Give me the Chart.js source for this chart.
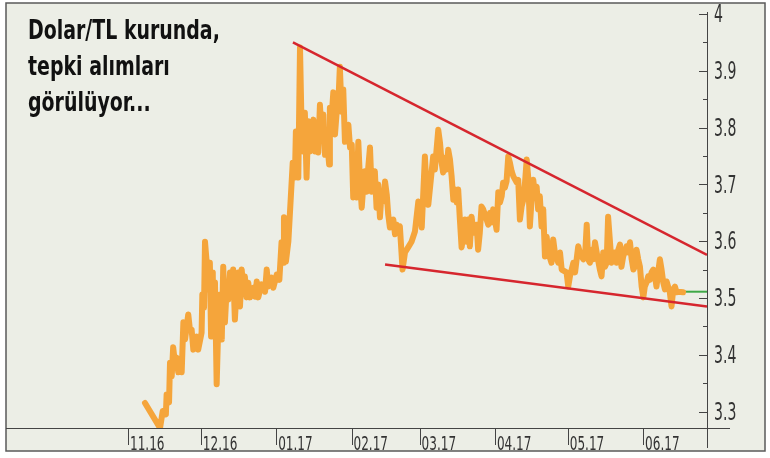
<!DOCTYPE html>
<html>
<head>
<meta charset="utf-8">
<script src="https://cdn.jsdelivr.net/npm/chart.js@4"></script>
<style>
  html, body { margin: 0; padding: 0; background: #fff; }
  #wrap { position: relative; width: 770px; height: 458px; }
  #title {
    position: absolute; left: 28px; top: 12px;
    font-family: 'Liberation Sans Narrow', 'DejaVu Sans Condensed', sans-serif;
    font-weight: bold; font-size: 27px; line-height: 36px; color: #111;
    transform: scaleX(0.78); transform-origin: 0 0; white-space: nowrap;
  }
</style>
</head>
<body>
<div id="wrap">
  <canvas id="chart" width="770" height="458"></canvas>
  <div id="title">Dolar/TL kurunda,<br>tepki alımları<br>görülüyor...</div>
</div>
<script>
// Dolar/TL kuru (gün: 1 Kasım 2016'dan itibaren)
const days = [
  7.0, 13.2, 14.3, 15.6, 15.9, 16.9, 17.3, 18.0, 18.6, 19.3, 20.0, 20.7, 21.4, 22.1, 22.8, 23.5,
  24.8, 25.5, 26.2, 26.9, 28.3, 28.9, 30.3, 30.6, 31.3, 31.7, 32.4, 33.0, 33.7, 34.2, 34.9, 35.1,
  35.8, 36.5, 37.2, 37.9, 38.6, 39.2, 39.9, 40.6, 41.3, 42.0, 42.7, 43.3, 44.0, 44.7, 45.4, 46.1,
  46.8, 47.4, 48.1, 48.8, 49.5, 50.2, 51.6, 52.3, 53.0, 53.6, 55.0, 56.4, 57.1, 57.7, 59.1, 59.8,
  61.2, 62.3, 63.2, 63.9, 64.2, 65.0, 66.0, 67.8, 68.7, 69.1, 70.1, 70.8, 71.5, 72.1, 72.8, 73.5,
  74.2, 74.9, 75.6, 76.3, 77.0, 77.6, 78.3, 79.0, 79.7, 80.4, 81.1, 81.8, 82.8, 83.1, 83.8, 84.5,
  85.2, 85.9, 86.5, 87.2, 87.9, 88.6, 89.3, 90.0, 90.7, 91.4, 92.1, 92.7, 93.4, 94.1, 94.8, 95.5,
  96.2, 96.9, 97.5, 98.2, 98.9, 99.6, 100.3, 100.9, 101.6, 102.3, 103.0, 103.7, 104.4, 105.1, 105.8, 106.5,
  107.1, 107.8, 109.2, 109.9, 110.6, 111.2, 111.9, 113.0, 114.0, 115.3, 116.7, 118.1, 119.5, 120.2, 120.9, 122.2,
  122.9, 123.6, 125.6, 126.3, 127.7, 128.4, 129.1, 129.7, 130.4, 131.1, 131.8, 132.5, 133.2, 133.9, 134.6, 135.3,
  135.9, 136.6, 137.3, 138.0, 138.7, 139.4, 140.0, 140.7, 141.4, 142.1, 142.8, 143.5, 144.1, 144.8, 145.5, 146.2,
  147.6, 148.3, 149.0, 149.7, 150.3, 151.7, 152.4, 153.1, 153.8, 154.4, 155.1, 155.8, 156.5, 157.2, 157.9, 158.6,
  160.0, 160.6, 161.3, 162.0, 162.7, 163.4, 164.1, 164.7, 165.4, 166.1, 166.8, 167.5, 168.2, 168.8, 169.5, 170.2,
  170.9, 171.6, 172.3, 173.0, 174.3, 175.0, 175.7, 177.1, 177.8, 178.5, 180.5, 181.2, 181.9, 183.3, 184.0, 185.3,
  186.0, 186.7, 187.4, 188.1, 188.8, 189.4, 190.1, 190.8, 191.5, 192.2, 192.9, 194.2, 194.9, 195.6, 196.3, 197.0,
  197.6, 198.3, 199.0, 199.7, 200.4, 201.1, 201.8, 202.5, 203.1, 203.8, 205.2, 205.9, 206.6, 207.3, 208.0, 208.6,
  209.3, 210.0, 210.7, 211.4, 212.1, 212.7, 213.4, 214.1, 214.8, 215.5, 216.2, 216.9, 217.5, 218.2, 218.9, 219.6,
  220.3, 221.0, 221.7, 222.3, 223.0, 223.7, 224.4, 225.1, 225.8, 226.5, 228.5
];
const rates = [
  3.315, 3.271, 3.301, 3.295, 3.330, 3.316, 3.386, 3.362, 3.413, 3.386, 3.395, 3.369, 3.388, 3.369, 3.457, 3.427,
  3.471, 3.444, 3.444, 3.409, 3.432, 3.409, 3.439, 3.506, 3.483, 3.599, 3.562, 3.515, 3.562, 3.432, 3.545, 3.457,
  3.527, 3.348, 3.457, 3.506, 3.427, 3.555, 3.457, 3.515, 3.497, 3.545, 3.502, 3.550, 3.462, 3.515, 3.545, 3.485,
  3.550, 3.520, 3.538, 3.501, 3.527, 3.501, 3.518, 3.502, 3.529, 3.501, 3.524, 3.511, 3.550, 3.520, 3.536, 3.518,
  3.541, 3.532, 3.598, 3.562, 3.642, 3.564, 3.599, 3.738, 3.712, 3.793, 3.712, 3.941, 3.788, 3.758, 3.826, 3.712,
  3.811, 3.758, 3.788, 3.814, 3.758, 3.788, 3.756, 3.840, 3.788, 3.823, 3.752, 3.782, 3.735, 3.835, 3.818, 3.862,
  3.788, 3.828, 3.835, 3.907, 3.828, 3.867, 3.775, 3.788, 3.805, 3.765, 3.770, 3.677, 3.705, 3.677, 3.775, 3.705,
  3.659, 3.700, 3.723, 3.687, 3.730, 3.765, 3.687, 3.705, 3.723, 3.659, 3.700, 3.642, 3.687, 3.670, 3.705, 3.682,
  3.647, 3.624, 3.638, 3.612, 3.629, 3.624, 3.626, 3.550, 3.580, 3.589, 3.599, 3.617, 3.670, 3.659, 3.624, 3.749,
  3.691, 3.664, 3.749, 3.726, 3.796, 3.774, 3.738, 3.721, 3.747, 3.726, 3.761, 3.744, 3.714, 3.673, 3.691, 3.668,
  3.691, 3.638, 3.589, 3.608, 3.638, 3.599, 3.638, 3.591, 3.643, 3.620, 3.615, 3.629, 3.585, 3.615, 3.661, 3.656,
  3.638, 3.629, 3.650, 3.633, 3.656, 3.620, 3.686, 3.668, 3.679, 3.703, 3.694, 3.705, 3.749, 3.738, 3.723, 3.714,
  3.703, 3.708, 3.638, 3.661, 3.673, 3.703, 3.744, 3.714, 3.626, 3.673, 3.708, 3.679, 3.696, 3.656, 3.679, 3.626,
  3.656, 3.573, 3.608, 3.580, 3.562, 3.603, 3.580, 3.562, 3.580, 3.550, 3.545, 3.520, 3.538, 3.562, 3.545, 3.591,
  3.580, 3.573, 3.568, 3.573, 3.629, 3.568, 3.562, 3.585, 3.568, 3.598, 3.580, 3.550, 3.538, 3.580, 3.555, 3.562,
  3.643, 3.603, 3.562, 3.568, 3.580, 3.562, 3.585, 3.594, 3.555, 3.573, 3.591, 3.580, 3.598, 3.568, 3.550, 3.555,
  3.585, 3.568, 3.555, 3.520, 3.501, 3.520, 3.527, 3.538, 3.532, 3.545, 3.550, 3.538, 3.520, 3.545, 3.568, 3.550,
  3.527, 3.515, 3.529, 3.520, 3.510, 3.485, 3.515, 3.520, 3.510, 3.511, 3.510
];

// Trend çizgileri
const upperTrendDays = [67.9, 238.3];
const upperTrendRates = [3.950, 3.576];
const lowerTrendDays = [105.8, 238.3];
const lowerTrendRates = [3.559, 3.485];
const lastLevelDays = [228.5, 238.3];
const lastLevelRates = [3.511, 3.511];

// Eksen
const monthDays = [0, 30, 61, 92, 120, 151, 181, 212];
const monthLabels = ['11.16', '12.16', '01.17', '02.17', '03.17', '04.17', '05.17', '06.17'];
const yTicks = [3.3, 3.35, 3.4, 3.45, 3.5, 3.55, 3.6, 3.65, 3.7, 3.75, 3.8, 3.85, 3.9, 3.95, 4.0];
const yLabels = ['3.3', '3.4', '3.5', '3.6', '3.7', '3.8', '3.9', '4'];

const FONT = "'Liberation Sans Narrow', 'DejaVu Sans Condensed', sans-serif";

function toPoints(xs, ys) {
    return xs.map((x, i) => ({ x: x, y: ys[i] }));
}

// narrow text: the original uses a very condensed face
function narrowText(c, text, x, y, sx) {
    c.save();
    c.translate(x, y);
    c.scale(sx, 1);
    c.fillText(text, 0, 0);
    c.restore();
}

// Background, frame, axis lines and labels
const frame = {
    id: 'frame',
    beforeDraw(chart) {
        const c = chart.ctx;
        c.save();
        c.fillStyle = '#ffffff';
        c.fillRect(0, 0, chart.width, chart.height);
        c.fillStyle = '#eceee6';
        c.fillRect(6, 3, 759, 448);
        c.strokeStyle = '#5a5a5a';
        c.lineWidth = 1.5;
        c.strokeRect(6, 3, 759, 448);
        c.restore();
    },
    afterDraw(chart) {
        const c = chart.ctx;
        const a = chart.chartArea;
        const xs = chart.scales.x, ys = chart.scales.y;
        c.save();
        c.strokeStyle = '#444';
        c.lineWidth = 1;
        c.beginPath();
        c.moveTo(6, a.bottom + 0.5);
        c.lineTo(730, a.bottom + 0.5);
        c.moveTo(a.right + 0.5, ys.getPixelForValue(4.0) - 2);
        c.lineTo(a.right + 0.5, 448);
        yTicks.forEach((v, i) => {
            const py = Math.round(ys.getPixelForValue(v)) + 0.5;
            const len = i % 2 === 0 ? 8 : 4;
            c.moveTo(a.right - len, py);
            c.lineTo(a.right, py);
        });
        monthDays.forEach(d => {
            const px = Math.round(xs.getPixelForValue(d)) + 0.5;
            c.moveTo(px, a.bottom);
            c.lineTo(px, a.bottom + 17);
        });
        c.stroke();

        c.fillStyle = '#333';
        c.textAlign = 'left';
        c.textBaseline = 'middle';
        c.font = '24px ' + FONT;
        yLabels.forEach(t => {
            narrowText(c, t, a.right + 7, ys.getPixelForValue(parseFloat(t)) + 2, 0.65);
        });
        c.textBaseline = 'alphabetic';
        c.font = '20px ' + FONT;
        monthDays.forEach((d, i) => {
            narrowText(c, monthLabels[i], xs.getPixelForValue(d) + 2, a.bottom + 22, 0.67);
        });
        c.restore();
    }
};

new Chart(document.getElementById('chart'), {
    type: 'line',
    data: {
        datasets: [{
            data: toPoints(upperTrendDays, upperTrendRates),
            borderColor: '#d6262e',
            borderWidth: 2.5
        }, {
            data: toPoints(lowerTrendDays, lowerTrendRates),
            borderColor: '#d6262e',
            borderWidth: 2.5
        }, {
            data: toPoints(days, rates),
            borderColor: '#f5a53b',
            borderWidth: 6,
            borderJoinStyle: 'round',
            borderCapStyle: 'round'
        }, {
            data: toPoints(lastLevelDays, lastLevelRates),
            borderColor: '#3fa846',
            borderWidth: 2
        }]
    },
    options: {
        responsive: false,
        animation: false,
        events: [],
        layout: { padding: { left: 6, top: 14, right: 0, bottom: 0 } },
        elements: { point: { radius: 0 }, line: { tension: 0 } },
        plugins: { legend: { display: false }, tooltip: { enabled: false } },
        scales: {
            x: {
                type: 'linear',
                min: -50.2,
                max: 238.3,
                grid: { display: false, drawTicks: false },
                border: { display: false },
                afterBuildTicks: s => { s.ticks = monthDays.map(v => ({ value: v })); },
                afterFit: s => { s.height = 30; s.paddingLeft = 0; s.paddingRight = 0; },
                ticks: { display: false }
            },
            y: {
                position: 'right',
                min: 3.271,
                max: 4.0,
                grid: { display: false, drawTicks: false },
                border: { display: false },
                afterBuildTicks: s => { s.ticks = yLabels.map(t => ({ value: parseFloat(t) })); },
                afterFit: s => { s.width = 63; s.paddingTop = 0; s.paddingBottom = 0; },
                ticks: { display: false }
            }
        }
    },
    plugins: [frame]
});
</script>
</body>
</html>
